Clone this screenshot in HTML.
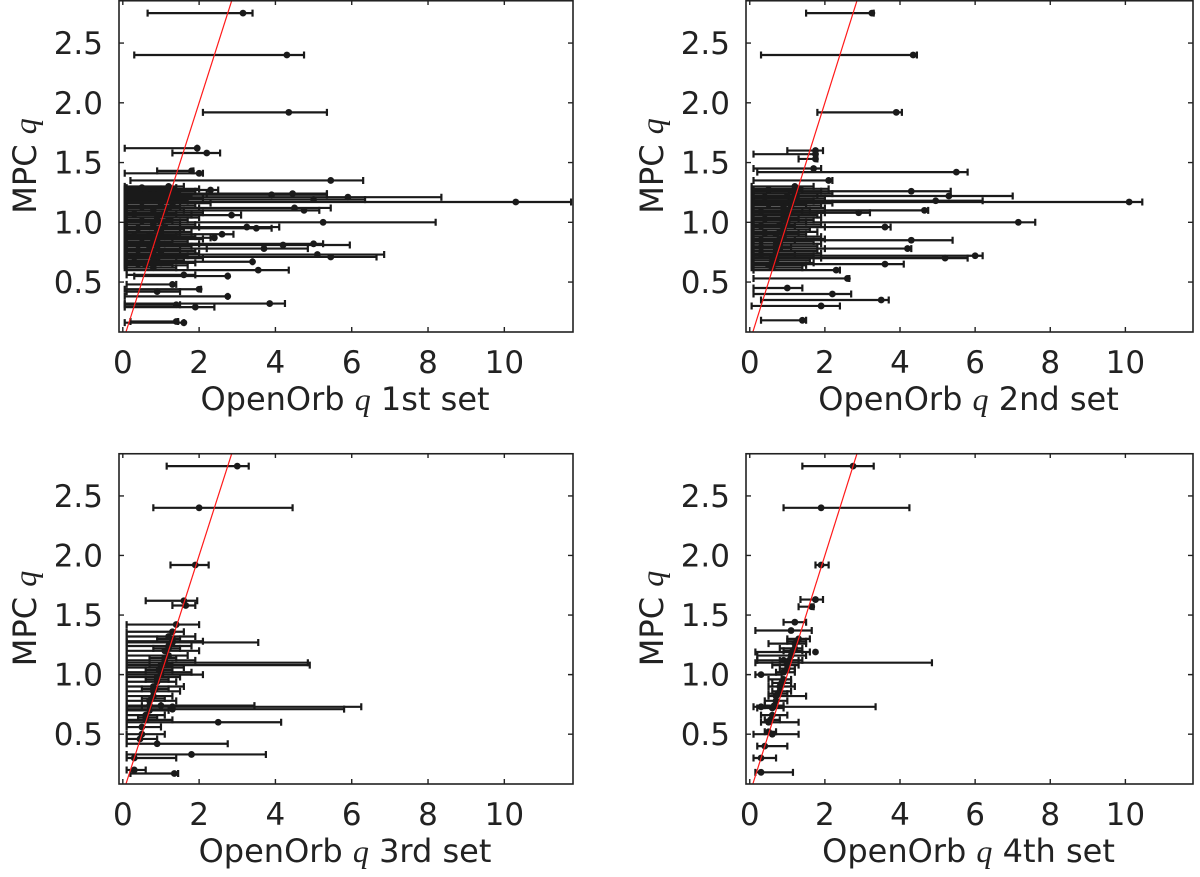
<!DOCTYPE html>
<html><head><meta charset="utf-8"><style>
html,body{margin:0;padding:0;background:#fff;}
svg{display:block;font-family:"DejaVu Sans","Liberation Sans",sans-serif;}
</style></head><body>
<svg id="chart" width="1200" height="877" viewBox="0 0 1200 877"></svg>
<script>
// Each point: [openorb_q, mpc_q, err_low, err_high]
const set1Points = [[3.15,2.75,0.65,3.4],[4.3,2.4,0.3,4.75],[4.35,1.92,2.1,5.35],[1.95,1.62,0.05,1.95],[2.2,1.58,1.3,2.55],[1.8,1.43,0.9,1.85],[2.0,1.41,0.05,2.1],[5.45,1.35,0.2,6.3],[2.3,1.27,0.1,2.5],[4.45,1.24,0.1,5.35],[3.9,1.23,0.1,5.35],[5.9,1.21,0.1,8.35],[5.0,1.19,0.1,6.35],[10.3,1.17,0.1,11.75],[4.5,1.12,0.1,5.45],[4.75,1.1,0.1,5.15],[5.25,1.0,0.1,8.2],[2.85,1.06,0.1,3.1],[3.5,0.95,0.1,3.9],[3.25,0.96,0.1,4.1],[2.6,0.9,0.1,2.9],[2.4,0.87,0.1,2.3],[5.0,0.82,0.1,5.25],[4.2,0.81,0.1,5.95],[3.7,0.78,0.1,4.85],[5.1,0.73,0.1,6.85],[5.45,0.71,0.1,6.65],[3.4,0.67,0.1,3.4],[3.55,0.6,0.1,4.35],[2.75,0.55,0.3,2.75],[1.6,0.56,0.1,1.9],[2.0,0.44,0.05,2.05],[2.75,0.38,0.05,2.75],[3.85,0.32,0.05,4.25],[1.9,0.29,0.05,2.4],[1.4,0.31,0.05,1.5],[1.6,0.16,0.05,1.6],[1.4,0.17,0.2,1.45],[1.3,0.48,0.1,1.4],[0.9,0.42,0.1,1.5]];
const set1Cluster = [[1.2,1.30,0.05,1.6],[1.0,1.28,0.05,2.0],[1.3,1.26,0.05,1.9],[0.8,1.24,0.05,2.2],[1.2,1.22,0.05,1.8],[1.1,1.20,0.05,2.1],[0.9,1.18,0.05,1.7],[1.3,1.16,0.05,2.3],[1.0,1.14,0.05,1.9],[1.2,1.12,0.05,2.0],[0.8,1.10,0.05,1.6],[1.1,1.08,0.05,2.1],[1.0,1.06,0.05,1.8],[0.9,1.04,0.05,2.0],[1.2,1.02,0.05,1.7],[1.0,1.00,0.05,1.5],[0.8,0.98,0.05,1.9],[1.1,0.96,0.05,2.0],[0.9,0.94,0.05,1.6],[1.0,0.92,0.05,1.8],[0.7,0.90,0.05,1.5],[1.0,0.88,0.05,1.9],[0.8,0.86,0.05,2.1],[0.9,0.84,0.05,1.7],[1.1,0.82,0.05,2.0],[0.7,0.80,0.05,1.8],[0.9,0.78,0.05,2.2],[0.8,0.76,0.05,1.9],[1.0,0.74,0.05,2.0],[0.7,0.72,0.05,1.7],[0.9,0.70,0.05,2.1],[0.8,0.68,0.05,1.6],[1.0,0.66,0.05,1.9],[0.6,0.64,0.05,1.7],[0.8,0.62,0.05,1.4],[0.5,1.29,0.1,1.4],[0.6,1.25,0.1,1.5],[0.4,1.19,0.1,1.3],[0.5,1.13,0.1,1.5],[0.3,1.07,0.1,1.4],[0.5,1.01,0.1,1.3],[0.4,0.95,0.1,1.5],[0.3,0.89,0.1,1.4],[0.5,0.83,0.1,1.3],[0.4,0.77,0.1,1.5],[0.3,0.71,0.1,1.4],[0.4,0.65,0.1,1.3]];
const set2Points = [[3.25,2.75,1.5,3.3],[4.35,2.4,0.3,4.45],[3.9,1.92,1.8,4.05],[1.75,1.6,1.0,1.95],[1.75,1.57,0.1,1.75],[1.75,1.53,1.3,1.8],[5.5,1.42,0.2,5.8],[1.7,1.45,0.1,1.9],[2.1,1.35,0.1,2.2],[4.3,1.26,0.1,5.35],[10.1,1.17,0.1,10.45],[5.3,1.22,0.1,7.0],[4.95,1.18,0.1,6.2],[7.15,1.0,0.1,7.6],[4.65,1.1,0.1,4.75],[3.6,0.96,0.1,3.75],[4.3,0.85,0.1,5.4],[4.2,0.78,0.1,4.3],[6.0,0.72,0.1,6.2],[5.2,0.7,0.1,5.8],[3.6,0.65,0.1,4.1],[3.5,0.35,0.3,3.7],[2.6,0.53,0.1,2.65],[2.2,0.4,0.1,2.7],[1.9,0.3,0.05,2.4],[1.4,0.18,0.3,1.5],[1.0,0.45,0.1,1.4],[2.9,1.08,0.1,3.2],[2.3,0.6,0.1,2.4]];
const set2Cluster = [[1.2,1.30,0.05,1.7],[1.3,1.28,0.05,2.1],[1.1,1.26,0.05,1.9],[1.2,1.24,0.05,2.2],[1.0,1.22,0.05,1.8],[1.2,1.20,0.05,2.0],[1.1,1.18,0.05,1.7],[1.0,1.16,0.05,2.2],[1.1,1.14,0.05,1.9],[0.9,1.12,0.05,2.0],[1.0,1.10,0.05,1.6],[1.1,1.08,0.05,2.0],[0.9,1.06,0.05,1.8],[1.0,1.04,0.05,1.9],[0.9,1.02,0.05,1.7],[1.0,1.00,0.05,1.5],[0.8,0.98,0.05,1.9],[0.9,0.96,0.05,2.0],[0.9,0.94,0.05,1.6],[0.8,0.92,0.05,1.8],[0.7,0.90,0.05,1.5],[0.9,0.88,0.05,1.9],[0.8,0.86,0.05,2.0],[0.7,0.84,0.05,1.7],[0.8,0.82,0.05,1.9],[0.7,0.80,0.05,1.8],[0.8,0.78,0.05,2.0],[0.7,0.76,0.05,1.8],[0.7,0.74,0.05,1.9],[0.6,0.72,0.05,1.7],[0.7,0.70,0.05,1.9],[0.6,0.68,0.05,1.6],[0.7,0.66,0.05,1.7],[0.5,0.64,0.05,1.5],[0.6,0.62,0.05,1.4],[0.5,1.27,0.1,1.4],[0.4,1.21,0.1,1.3],[0.5,1.15,0.1,1.5],[0.3,1.09,0.1,1.4],[0.4,1.03,0.1,1.3],[0.3,0.97,0.1,1.2],[0.4,0.91,0.1,1.3],[0.3,0.85,0.1,1.2],[0.3,0.79,0.1,1.1],[0.3,0.73,0.1,1.2]];
const set3Points = [[3.0,2.75,1.15,3.3],[2.0,2.4,0.8,4.45],[1.9,1.92,1.25,2.25],[1.6,1.62,0.6,1.95],[1.65,1.58,1.3,1.9],[1.4,1.42,0.1,2.0],[1.3,1.27,0.1,3.55],[1.1,1.1,0.1,4.85],[1.2,1.08,0.1,4.9],[1.0,1.0,0.1,2.1],[2.5,0.6,0.1,4.15],[1.3,0.73,0.1,6.25],[1.3,0.71,0.1,5.8],[1.0,0.74,0.1,3.45],[1.8,0.33,0.1,3.75],[1.35,0.17,0.2,1.45],[0.9,0.42,0.1,2.75],[0.5,0.5,0.1,1.1],[0.3,0.3,0.1,1.4],[0.3,0.2,0.1,0.6]];
const set3Cluster = [[1.3,1.36,0.1,1.6],[1.2,1.32,0.1,1.9],[1.3,1.28,0.1,2.1],[1.2,1.24,0.1,1.8],[1.1,1.20,0.1,2.0],[1.2,1.16,0.1,1.7],[1.1,1.12,0.1,1.9],[1.0,1.06,0.1,1.6],[1.0,1.02,0.1,1.8],[0.9,0.98,0.1,1.5],[0.9,0.94,0.1,1.4],[0.8,0.90,0.1,1.6],[0.8,0.86,0.1,1.5],[0.8,0.82,0.1,1.3],[0.7,0.78,0.1,1.4],[0.7,0.70,0.1,1.2],[0.6,0.66,0.1,1.1],[0.6,0.62,0.1,1.3],[0.5,0.56,0.1,1.0],[0.45,0.46,0.1,0.9],[1.3,1.30,0.9,1.5],[1.2,1.22,0.8,1.5],[1.1,1.14,0.7,1.4],[1.0,1.08,0.7,1.3],[0.95,1.04,0.6,1.3],[0.9,0.96,0.6,1.2],[0.85,0.88,0.5,1.2],[0.75,0.80,0.5,1.1],[0.7,0.74,0.5,1.0],[0.6,0.64,0.4,0.9]];
const set4Points = [[2.75,2.75,1.4,3.3],[1.9,2.4,0.9,4.25],[1.9,1.92,1.75,2.1],[1.75,1.63,1.35,1.95],[1.65,1.57,1.3,1.7],[1.2,1.44,0.9,1.5],[1.1,1.37,0.15,1.65],[1.75,1.19,0.15,1.6],[1.0,1.1,0.15,4.85],[0.3,1.0,0.15,0.85],[0.3,0.73,0.1,3.35],[0.6,0.5,0.1,1.3],[0.4,0.4,0.2,1.0],[0.3,0.3,0.1,0.7],[0.3,0.18,0.15,1.15]];
const set4Cluster = [[1.3,1.30,1.0,1.6],[1.2,1.26,0.5,1.5],[1.2,1.22,0.8,1.4],[1.1,1.16,0.2,1.5],[0.9,1.12,0.2,1.4],[1.0,1.08,0.6,1.3],[0.9,1.02,0.7,1.2],[0.9,0.96,0.5,1.1],[0.8,0.90,0.5,1.2],[0.8,0.86,0.6,1.1],[0.7,0.82,0.5,1.5],[0.7,0.78,0.4,1.0],[0.6,0.72,0.2,0.9],[0.6,0.66,0.3,1.0],[0.5,0.60,0.3,1.3],[0.5,0.52,0.4,0.7],[1.25,1.28,1.0,1.5],[1.15,1.20,0.9,1.4],[1.05,1.12,0.8,1.3],[1.0,1.05,0.8,1.2],[0.85,0.93,0.6,1.1],[0.75,0.84,0.5,1.0],[0.65,0.74,0.4,0.9],[0.55,0.62,0.4,0.8]];
const xTicks = [0,2,4,6,8,10];
const yTicks = [0.5,1.0,1.5,2.0,2.5];
const xLabels = ["OpenOrb","OpenOrb","OpenOrb","OpenOrb"];
const setNames = ["1st set","2nd set","3rd set","4th set"];

const NS="http://www.w3.org/2000/svg";
const svg=document.getElementById('chart');
const XMIN=-0.1,XMAX=11.8,YMIN=0.082,YMAX=2.86;
const panels=[
 {l:119,r:573,t:0,b:332,pts:set1Points,cl:set1Cluster},
 {l:746,r:1193,t:0,b:332,pts:set2Points,cl:set2Cluster},
 {l:119,r:573,t:453,b:784,pts:set3Points,cl:set3Cluster},
 {l:746,r:1193,t:453,b:784,pts:set4Points,cl:set4Cluster}];
function mk(tag,attrs,parent){const e=document.createElementNS(NS,tag);for(const k in attrs)e.setAttribute(k,attrs[k]);(parent||svg).appendChild(e);return e;}
panels.forEach((p,i)=>{
 const g=mk('g',{});
 
 
 const sx=v=>p.l+(v-XMIN)/(XMAX-XMIN)*(p.r-p.l);
 const sy=v=>p.b-(v-YMIN)/(YMAX-YMIN)*(p.b-p.t);
 const clipId='clip'+i;
 const cp=mk('clipPath',{id:clipId},g);mk('rect',{x:p.l,y:p.t,width:p.r-p.l,height:p.b-p.t},cp);
 const dg=mk('g',{'clip-path':'url(#'+clipId+')'},g);
 
 
 p.cl.concat(p.pts).forEach(d=>{
  const y=sy(d[1]),a=sx(d[2]),b=sx(d[3]);
  const e=mk('path',{d:`M${a},${y}H${b}M${a},${y-3.5}V${y+3.5}M${b},${y-3.5}V${y+3.5}`,stroke:'#1a1a1a','stroke-width':2.2,fill:'none'},dg);
  
  
  const c=mk('circle',{cx:sx(d[0]),cy:y,r:3.4,fill:'#1a1a1a'},dg);
  
  
 });
 const ln=mk('line',{x1:sx(0),y1:sy(0),x2:sx(3.2),y2:sy(3.2),stroke:'#ff1a1a','stroke-width':1.2},dg);
 
 
 const fr=mk('rect',{x:p.l,y:p.t+0.75,width:p.r-p.l,height:p.b-p.t-0.75,fill:'none',stroke:'#222','stroke-width':1.6},g);
 
 
 xTicks.forEach(v=>{
  const x=sx(v);
  mk('path',{d:`M${x},${p.b}v-5M${x},${p.t}v5`,stroke:'#222','stroke-width':1.4},g);
  const t=mk('text',{x:x,y:p.b+41,'text-anchor':'middle','font-size':31,fill:'#222'},g);
  t.textContent=String(v);
  
  
 });
 yTicks.forEach(v=>{
  const y=sy(v);
  mk('path',{d:`M${p.l},${y}h5M${p.r},${y}h-5`,stroke:'#222','stroke-width':1.4},g);
  const t=mk('text',{x:p.l-16,y:y+11,'text-anchor':'end','font-size':31,fill:'#222'},g);
  t.textContent=v.toFixed(1);
  
  
 });
 const xl=mk('text',{x:(p.l+p.r)/2-1,y:p.b+78,'text-anchor':'middle','font-size':32,fill:'#222'},g);
 xl.innerHTML=xLabels[i]+' <tspan font-family="Liberation Serif, serif" font-style="italic">q</tspan> '+setNames[i];
 
 
 const cy=(p.t+p.b)/2;
 const yl=mk('text',{x:0,y:0,transform:`translate(${p.l-83},${cy}) rotate(-90)`,'text-anchor':'middle','font-size':32,fill:'#222'},g);
 yl.innerHTML='MPC <tspan font-family="Liberation Serif, serif" font-style="italic">q</tspan>';
 
 
});
</script>
</body></html>
